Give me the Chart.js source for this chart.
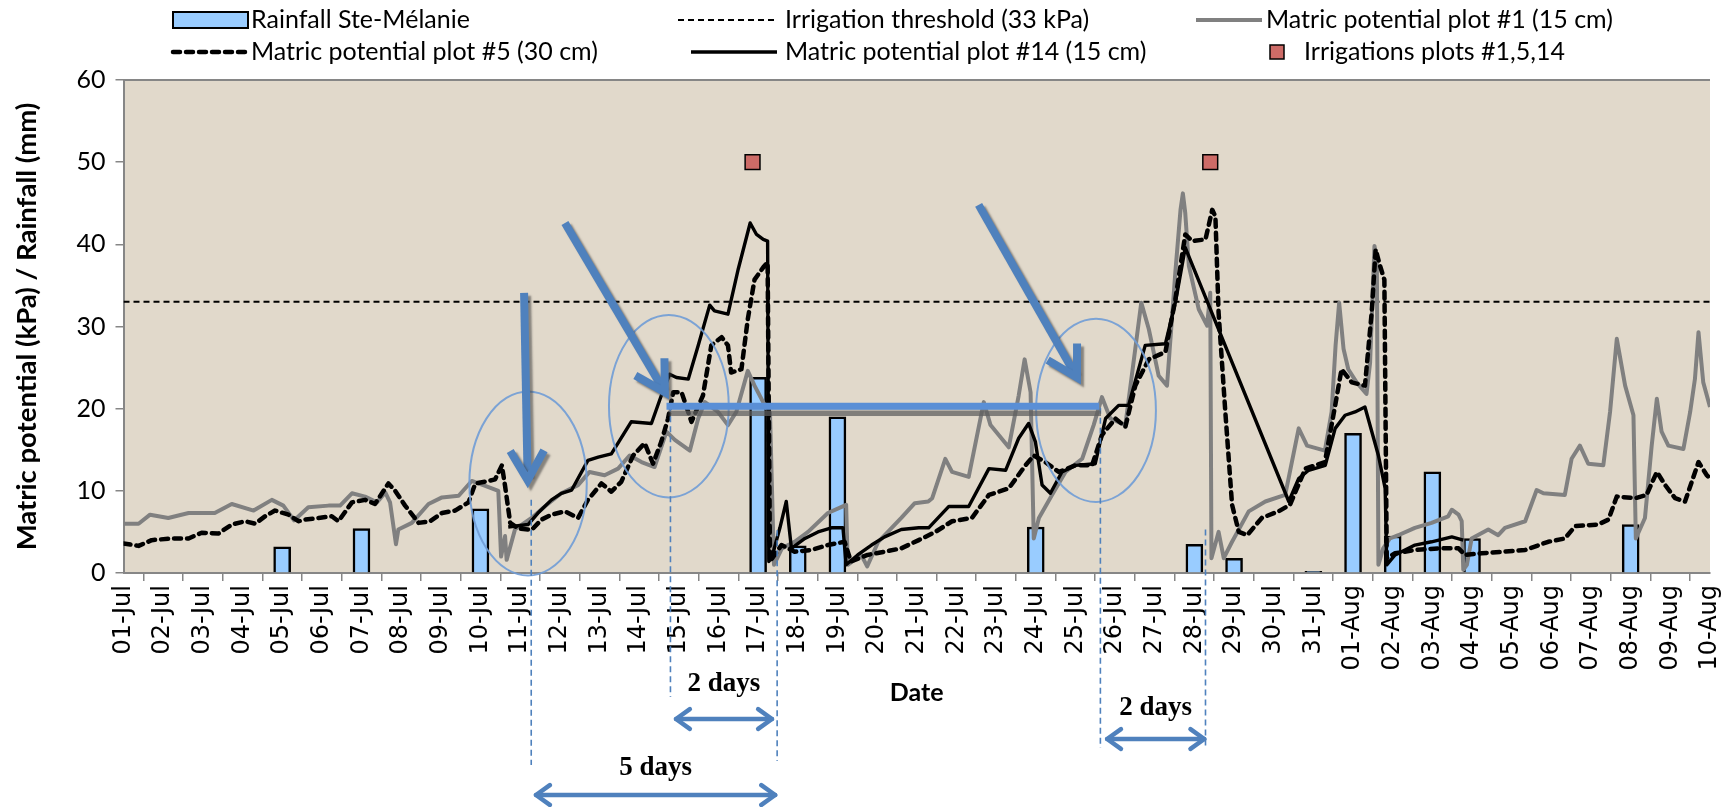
<!DOCTYPE html>
<html>
<head>
<meta charset="utf-8">
<script src="https://cdn.jsdelivr.net/npm/chart.js@4.4.0/dist/chart.umd.min.js"></script>
<style>
  html, body { margin: 0; padding: 0; background: #fff; }
  #wrap { position: relative; width: 1728px; height: 807px; }
</style>
</head>
<body>
<div id="wrap"><canvas id="chart1"></canvas></div>
<script>
// tick labels, one per day (x = days since 01-Jul)
var dayLabels = ['01-Jul','02-Jul','03-Jul','04-Jul','05-Jul','06-Jul','07-Jul','08-Jul','09-Jul','10-Jul',
  '11-Jul','12-Jul','13-Jul','14-Jul','15-Jul','16-Jul','17-Jul','18-Jul','19-Jul','20-Jul',
  '21-Jul','22-Jul','23-Jul','24-Jul','25-Jul','26-Jul','27-Jul','28-Jul','29-Jul','30-Jul',
  '31-Jul','01-Aug','02-Aug','03-Aug','04-Aug','05-Aug','06-Aug','07-Aug','08-Aug','09-Aug','10-Aug'];

// daily rainfall at Ste-Mélanie (mm)
var rainDays = [4, 6, 9, 16, 17, 18, 23, 27, 28, 30, 31, 32, 33, 34, 38];
var rainMm   = [3.2, 5.4, 7.8, 23.8, 3.3, 19.0, 5.6, 3.5, 1.8, 0.2, 17.0, 4.5, 12.3, 4.2, 5.9];

// irrigation events
var irrigDays = [15.86, 27.4];
var irrigMark = [50, 50];

var thresholdKpa = 33;

// matric potential, plot #1 (15 cm)
var plot1Days = [0,0.38,0.67,1.13,1.64,2.3,2.73,3.28,3.74,4.03,4.3,4.66,5.17,5.46,5.76,6.09,6.39,6.6,6.72,6.87,6.93,7.27,7.69,8.03,8.45,8.78,9.12,9.45,9.52,9.62,9.66,9.87,10.29,10.62,11.04,11.46,11.75,12.13,12.47,12.76,13.06,13.39,13.69,13.9,14.28,14.49,14.66,14.99,15.24,15.45,15.74,15.91,16.17,16.3,16.4,16.6,16.92,17.26,17.76,18.22,18.26,18.6,18.75,19.03,19.61,19.95,20.29,20.39,20.72,20.89,21.31,21.69,21.86,22.32,22.57,22.72,22.87,22.95,23.08,23.41,23.75,24.17,24.46,24.67,24.88,25.26,25.51,25.66,25.85,26.1,26.31,26.52,26.65,26.71,26.77,26.86,27.11,27.32,27.4,27.43,27.61,27.74,27.95,28.37,28.79,29.29,29.63,29.84,30.29,30.46,30.56,30.65,30.76,30.88,31.09,31.34,31.43,31.54,31.6,31.64,31.76,31.93,32.14,32.56,32.98,33.4,33.49,33.66,33.74,33.78,33.87,33.99,34.41,34.66,34.83,35.34,35.63,35.8,36.34,36.51,36.72,36.93,37.31,37.48,37.65,37.86,38.07,38.13,38.36,38.53,38.66,38.78,38.95,39.33,39.5,39.62,39.71,39.83,40];
var plot1Kpa  = [6.0,6.0,7.1,6.7,7.3,7.3,8.4,7.6,8.9,8.2,6.4,8.0,8.2,8.2,9.7,9.3,8.6,9.8,8.6,3.5,5.3,6.1,8.4,9.2,9.4,11.2,10.6,10.0,2.0,4.5,1.6,5.3,6.7,8.1,9.7,10.7,12.3,11.9,12.7,14.3,13.5,12.9,17.2,16.2,14.9,18.8,20.8,19.6,18.0,19.6,24.6,22.8,20.4,19.5,1.0,3.0,3.8,5.0,7.3,8.3,1.0,2.2,0.8,3.8,6.7,8.5,8.7,9.1,13.9,12.3,11.7,20.8,18.0,15.3,21.6,26.0,22.0,4.2,6.7,9.5,12.3,13.9,18.0,21.4,18.8,18.0,27.3,32.9,29.7,24.0,22.8,36.6,44.2,46.2,43.8,37.4,32.1,30.1,34.1,1.8,5.0,1.8,3.8,7.5,8.7,9.5,17.6,15.5,14.9,19.6,27.7,32.9,27.3,24.8,23.2,21.8,25.6,39.8,38.2,1.0,3.0,4.2,4.6,5.5,6.1,6.9,7.7,7.1,6.3,0.4,1.0,4.2,5.3,4.6,5.5,6.3,10.1,9.7,9.5,13.9,15.5,13.3,13.1,19.6,28.5,22.8,19.2,4.2,6.7,15.5,21.2,17.2,15.5,15.1,19.6,23.6,29.3,23.2,20.2];

// matric potential, plot #5 (30 cm)
var plot5Days = [0,0.38,0.71,1.22,1.64,1.97,2.39,2.73,3.07,3.32,3.57,3.82,4.16,4.41,4.58,4.92,5.25,5.42,5.76,6.09,6.34,6.68,6.85,7.1,7.44,7.73,8.03,8.36,8.7,8.87,9.2,9.37,9.54,9.62,9.75,9.96,10.29,10.54,10.79,11.13,11.46,11.71,12.05,12.3,12.55,12.85,13.14,13.35,13.56,13.73,13.86,14.07,14.32,14.61,14.82,15.08,15.24,15.32,15.58,15.74,15.91,16.13,16.24,16.3,16.59,16.92,17.34,17.76,18.18,18.34,18.76,19.19,19.61,20.05,20.47,20.89,21.39,21.82,22.32,22.74,22.95,23.24,23.58,24.0,24.42,24.67,25.01,25.26,25.51,25.85,26.27,26.52,26.77,26.94,27.28,27.45,27.53,27.61,27.78,27.95,28.12,28.33,28.7,29.12,29.41,29.55,29.8,30.29,30.55,30.71,30.97,31.3,31.47,31.57,31.68,31.79,31.85,32.06,32.56,33.15,33.66,33.82,34.24,34.83,35.34,35.92,36.34,36.6,37.18,37.44,37.65,38.11,38.4,38.66,38.87,39.12,39.37,39.54,39.71,39.92,40];
var plot5Kpa  = [3.6,3.3,4.0,4.2,4.2,4.9,4.8,5.9,6.3,6.0,6.9,7.6,7.1,6.3,6.5,6.7,6.9,6.3,8.6,8.9,8.4,10.9,10.0,8.2,6.1,6.3,7.3,7.6,8.6,10.9,11.2,11.4,13.1,10.6,6.1,5.4,5.25,6.5,7.1,7.5,6.7,8.9,10.9,9.9,11.1,14.3,15.8,13.3,16.0,18.8,22.0,22.0,18.4,21.6,27.7,28.7,27.7,24.4,24.8,30.9,35.7,37.2,37.8,1.4,3.4,2.6,2.8,3.4,3.8,1.4,2.2,2.6,3.0,4.0,5.0,6.3,6.7,9.5,10.3,13.1,14.3,13.5,12.3,13.1,13.1,16.8,18.8,17.8,22.8,26.0,26.9,33.3,41.2,40.4,40.6,44.2,43.4,31.7,19.6,8.3,5.0,4.6,6.7,7.5,8.3,9.9,12.7,13.5,20.4,24.8,23.2,22.8,31.7,39.4,37.4,35.7,1.8,2.4,2.8,3.0,3.0,2.2,2.4,2.6,2.8,3.8,4.2,5.7,5.9,6.5,9.3,9.1,9.5,12.3,10.7,9.1,8.7,11.1,13.5,11.9,11.5];

// matric potential, plot #14 (15 cm)
var plot14Days = [9.7,10.2,10.45,10.79,11.04,11.3,11.71,11.97,12.3,12.8,13.31,13.56,13.77,13.94,14.24,14.49,14.78,14.9,15.24,15.5,15.8,15.96,16.13,16.24,16.27,16.34,16.55,16.71,16.84,17.18,17.51,17.85,18.14,18.22,18.51,18.86,19.19,19.61,20.05,20.3,20.81,21.31,21.82,22.24,22.57,22.82,22.99,23.16,23.37,23.66,24.0,24.5,24.76,25.09,25.34,25.76,26.27,26.52,26.77,29.38,29.63,29.88,30.3,30.55,30.8,31.05,31.3,31.64,31.81,31.85,32.06,32.56,32.98,33.49,33.78];
var plot14Kpa  = [5.6,5.9,7.3,8.9,9.7,10.1,13.7,14.1,14.5,18.4,18.2,21.6,24.2,23.8,23.6,27.7,32.6,31.9,31.5,37.0,42.6,41.2,40.6,40.4,1.4,1.8,5.5,8.7,3.0,4.2,5.0,5.5,5.5,1.0,2.2,3.4,4.4,5.3,5.5,5.5,8.1,8.1,12.7,12.5,16.4,18.2,16.0,10.7,9.7,12.3,13.1,13.3,18.8,20.4,20.4,27.7,27.9,32.9,39.6,8.7,11.5,12.5,13.1,17.6,19.2,19.6,20.2,14.3,10.3,1.0,2.2,3.4,3.8,4.4,4.0];

function pairs(xs, ys) {
    return xs.map(function(x, i){ return {x: x, y: ys[i]}; });
}

Chart.defaults.font.family = 'Lato';
Chart.defaults.color = '#000';

var axisGrey = '#868686';
var noteBlue = '#4f81bd';

// plot area fill and top border
var backdrop = {
    id: 'backdrop',
    beforeDraw: function(chart){
        var a = chart.chartArea, ctx = chart.ctx;
        ctx.save();
        ctx.fillStyle = '#e1d9cb';
        ctx.fillRect(a.left, a.top, a.right - a.left, a.bottom - a.top);
        ctx.strokeStyle = axisGrey;
        ctx.lineWidth = 2;
        ctx.beginPath();
        ctx.moveTo(a.left, a.top);
        ctx.lineTo(a.right, a.top);
        ctx.stroke();
        ctx.restore();
    }
};

// three-column legend above the plot
var legendBox = {
    id: 'legendBox',
    afterDraw: function(chart){
        var ctx = chart.ctx;
        var slots = [
            {ds: 0, x0: 173, x1: 248, tx: 251, y: 20},
            {ds: 1, x0: 678, x1: 777, tx: 785, y: 20},
            {ds: 2, x0: 1196, x1: 1262, tx: 1266, y: 20},
            {ds: 3, x0: 173, x1: 248, tx: 251, y: 52},
            {ds: 4, x0: 691, x1: 777, tx: 785, y: 52},
            {ds: 5, x0: 1270, x1: 1284, tx: 1304, y: 52}
        ];
        ctx.save();
        slots.forEach(function(s){
            var d = chart.data.datasets[s.ds];
            if (d.type === 'bar') {
                ctx.fillStyle = d.backgroundColor;
                ctx.fillRect(s.x0, s.y - 8, s.x1 - s.x0, 16);
                ctx.strokeStyle = d.borderColor;
                ctx.lineWidth = 2;
                ctx.strokeRect(s.x0, s.y - 8, s.x1 - s.x0, 16);
            } else if (d.showLine === false) {
                ctx.fillStyle = d.pointBackgroundColor;
                ctx.fillRect(s.x0, s.y - 7, 14, 14);
                ctx.strokeStyle = d.pointBorderColor;
                ctx.lineWidth = 1.5;
                ctx.strokeRect(s.x0, s.y - 7, 14, 14);
            } else {
                ctx.strokeStyle = d.borderColor;
                ctx.lineWidth = d.borderWidth;
                ctx.lineCap = d.borderCapStyle || 'butt';
                ctx.setLineDash(d.borderDash || []);
                ctx.beginPath();
                ctx.moveTo(s.x0, s.y);
                ctx.lineTo(s.x1, s.y);
                ctx.stroke();
                ctx.setLineDash([]);
                ctx.lineCap = 'butt';
            }
            ctx.fillStyle = '#000';
            ctx.font = '25px Lato';
            ctx.textBaseline = 'middle';
            ctx.textAlign = 'left';
            ctx.fillText(d.label, s.tx, s.y);
        });
        ctx.restore();
    }
};

function openHead(ctx, x, y, ang, len, spread) {
    ctx.beginPath();
    ctx.moveTo(x - len * Math.cos(ang - spread), y - len * Math.sin(ang - spread));
    ctx.lineTo(x, y);
    ctx.lineTo(x - len * Math.cos(ang + spread), y - len * Math.sin(ang + spread));
    ctx.stroke();
}

// callouts: circled zones, arrows, delay spans
var callouts = {
    id: 'callouts',
    afterDatasetsDraw: function(chart){
        var ctx = chart.ctx, xs = chart.scales.x, ys = chart.scales.y;
        var X = function(d){ return xs.getPixelForValue(d); };
        var Y = function(v){ return ys.getPixelForValue(v); };
        var base = chart.chartArea.bottom;
        ctx.save();

        // circled zones [day, kPa, half days, half kPa]
        ctx.strokeStyle = 'rgba(112,156,214,0.9)';
        ctx.lineWidth = 2;
        [[10.2, 10.9, 1.48, 11.2], [13.75, 20.3, 1.51, 11.1], [24.52, 19.8, 1.51, 11.15]].forEach(function(z){
            var cx = X(z[0]), cy = Y(z[1]);
            ctx.beginPath();
            ctx.ellipse(cx, cy, X(z[0] + z[2]) - cx, cy - Y(z[1] + z[3]), 0, 0, 2 * Math.PI);
            ctx.stroke();
        });

        // dashed guides [day, top kPa, bottom px below axis]
        ctx.strokeStyle = noteBlue;
        ctx.lineWidth = 1.6;
        ctx.setLineDash([6, 4]);
        [[10.28, 8.9, 192], [13.79, 20.3, 124], [16.48, 5.2, 188], [24.63, 20.1, 175], [27.28, 5.3, 175]].forEach(function(g){
            ctx.beginPath();
            ctx.moveTo(X(g[0]), Y(g[1]));
            ctx.lineTo(X(g[0]), base + g[2]);
            ctx.stroke();
        });
        ctx.setLineDash([]);

        // thick arrows with drop shadow
        ctx.shadowColor = 'rgba(60,60,60,0.55)';
        ctx.shadowOffsetX = 3;
        ctx.shadowOffsetY = 3;
        ctx.shadowBlur = 2;
        ctx.strokeStyle = noteBlue;
        ctx.lineWidth = 8;
        ctx.lineCap = 'butt';
        ctx.lineJoin = 'miter';
        [[10.1, 34.1, 10.19, 11.3], [11.13, 42.6, 13.65, 22.0], [21.56, 44.8, 24.04, 23.8]].forEach(function(a){
            var x1 = X(a[0]), y1 = Y(a[1]), x2 = X(a[2]), y2 = Y(a[3]);
            var ang = Math.atan2(y2 - y1, x2 - x1);
            ctx.beginPath();
            ctx.moveTo(x1, y1);
            ctx.lineTo(x2 - 4 * Math.cos(ang), y2 - 4 * Math.sin(ang));
            ctx.stroke();
            openHead(ctx, x2, y2, ang, 34, 0.52);
        });

        // level reached when the circled zones start
        ctx.shadowColor = 'rgba(95,95,95,0.75)';
        ctx.shadowOffsetX = 2;
        ctx.shadowOffsetY = 6;
        ctx.shadowBlur = 1;
        ctx.strokeStyle = '#5a8fd6';
        ctx.lineWidth = 7;
        ctx.beginPath();
        ctx.moveTo(X(13.69), Y(20.3));
        ctx.lineTo(X(24.6), Y(20.3));
        ctx.stroke();
        ctx.shadowColor = 'transparent';

        // spans with labels [from day, to day, arrow px, label px, text]
        ctx.strokeStyle = noteBlue;
        ctx.lineWidth = 4.5;
        ctx.lineCap = 'round';
        ctx.lineJoin = 'round';
        ctx.fillStyle = '#000';
        ctx.font = 'bold 27px "Liberation Serif"';
        ctx.textAlign = 'center';
        ctx.textBaseline = 'middle';
        [[13.93, 16.35, 146, 111, '2 days'], [10.4, 16.43, 222, 195, '5 days'], [24.8, 27.25, 166, 135, '2 days']].forEach(function(s){
            var x1 = X(s[0]), x2 = X(s[1]), y = base + s[2];
            ctx.beginPath();
            ctx.moveTo(x1, y);
            ctx.lineTo(x2, y);
            ctx.stroke();
            openHead(ctx, x2, y, 0, 17, 0.62);
            openHead(ctx, x1, y, Math.PI, 17, 0.62);
            ctx.fillText(s[4], (x1 + x2) / 2, base + s[3]);
        });
        ctx.restore();
    }
};

var ctx = document.getElementById('chart1');
var myChart = new Chart(ctx, {
    type: 'line',
    data: {
        datasets: [
            {
                type: 'bar',
                label: 'Rainfall Ste-Mélanie',
                data: pairs(rainDays, rainMm),
                backgroundColor: '#99ccff',
                borderColor: '#000',
                borderWidth: 2.5,
                barThickness: 17,
                order: 6
            },
            {
                label: 'Irrigation threshold (33 kPa)',
                data: [{x: 0, y: thresholdKpa}, {x: 40, y: thresholdKpa}],
                borderColor: '#000',
                borderWidth: 2,
                borderDash: [6, 4],
                pointRadius: 0,
                order: 5
            },
            {
                label: 'Matric potential plot #1 (15 cm)',
                data: pairs(plot1Days, plot1Kpa),
                borderColor: '#808080',
                borderWidth: 4,
                borderJoinStyle: 'round',
                pointRadius: 0,
                order: 4
            },
            {
                label: 'Matric potential plot #5 (30 cm)',
                data: pairs(plot5Days, plot5Kpa),
                borderColor: '#000',
                borderWidth: 4.5,
                borderDash: [7, 6],
                borderCapStyle: 'round',
                borderJoinStyle: 'round',
                pointRadius: 0,
                order: 3
            },
            {
                label: 'Matric potential plot #14 (15 cm)',
                data: pairs(plot14Days, plot14Kpa),
                borderColor: '#000',
                borderWidth: 3.4,
                borderJoinStyle: 'round',
                pointRadius: 0,
                order: 2
            },
            {
                label: 'Irrigations plots #1,5,14',
                data: pairs(irrigDays, irrigMark),
                showLine: false,
                pointStyle: 'rect',
                pointRadius: 10.5,
                pointBackgroundColor: '#cd6b67',
                pointBorderColor: '#000',
                pointBorderWidth: 1.5,
                order: 1
            }
        ]
    },
    options: {
        responsive: true,
        maintainAspectRatio: false,
        animation: false,
        events: [],
        layout: { padding: { left: 5, right: 18, top: 80, bottom: 0 } },
        plugins: {
            legend: { display: false },
            tooltip: { enabled: false }
        },
        scales: {
            x: {
                type: 'linear',
                min: 0,
                max: 40,
                offset: false,
                afterFit: function(s){
                    s.height = 234;
                    s.paddingLeft = 0;
                    s.paddingRight = 0;
                },
                ticks: {
                    stepSize: 1,
                    autoSkip: false,
                    maxRotation: 90,
                    minRotation: 90,
                    padding: 4,
                    font: { family: 'DejaVu Sans', size: 24 },
                    callback: function(v){ return dayLabels[v]; }
                },
                grid: { drawOnChartArea: false, drawTicks: true, tickLength: 8, color: axisGrey, lineWidth: 1.5 },
                border: { color: axisGrey, width: 2 },
                title: {
                    display: true,
                    text: 'Date',
                    font: { family: 'Lato', size: 25, weight: 'bold' },
                    padding: { top: 0, bottom: 99 }
                }
            },
            y: {
                min: 0,
                max: 60,
                afterFit: function(s){ s.width = 118.5; },
                ticks: { stepSize: 10, padding: 10, font: { family: 'Lato', size: 25 } },
                grid: { drawOnChartArea: false, drawTicks: true, tickLength: 8, color: axisGrey, lineWidth: 1.5 },
                border: { color: axisGrey, width: 2 },
                title: {
                    display: true,
                    text: 'Matric potential (kPa) / Rainfall (mm)',
                    font: { family: 'Lato', size: 27.5, weight: 'bold' },
                    padding: { top: 6, bottom: 0 }
                }
            }
        }
    },
    plugins: [backdrop, legendBox, callouts]
});
</script>
</body>
</html>
